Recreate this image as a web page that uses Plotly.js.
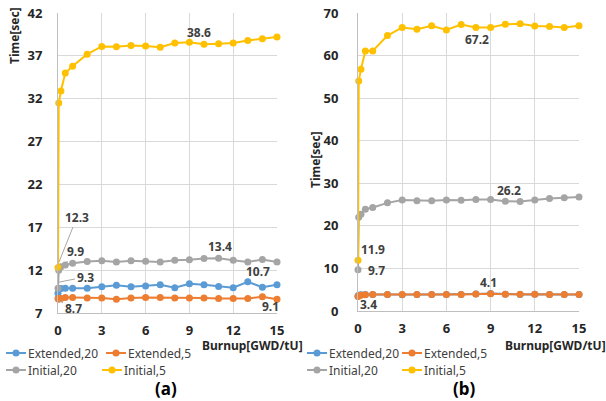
<!DOCTYPE html>
<html>
<head>
<meta charset="utf-8">
<script src="https://cdn.plot.ly/plotly-3.0.1.min.js"></script>
<style>html,body{margin:0;padding:0;background:#fff;}#chart{width:606px;height:401px;}</style>
</head>
<body>
<div id="chart"></div>
<script>
// Burnup steps [GWD/tU]
const burnup = [0, 0.05, 0.2, 0.5, 1, 2, 3, 4, 5, 6, 7, 8, 9, 10, 11, 12, 13, 14, 15];

// Panel (a)
const aExtended20 = [9.3, 9.8, 9.85, 9.9, 9.9, 9.9, 10.05, 10.25, 10.05, 10.15, 10.3, 9.95, 10.4, 10.3, 10.1, 9.95, 10.65, 10.0, 10.3];
const aExtended5  = [8.7, 8.6, 8.7, 8.8, 8.8, 8.75, 8.75, 8.6, 8.75, 8.8, 8.8, 8.75, 8.75, 8.75, 8.7, 8.7, 8.7, 8.9, 8.6];
const aInitial20  = [9.9, 12.0, 12.4, 12.6, 12.8, 13.0, 13.1, 12.95, 13.1, 13.05, 12.95, 13.15, 13.2, 13.35, 13.4, 13.15, 12.95, 13.25, 12.95];
const aInitial5   = [12.3, 31.5, 32.9, 35.0, 35.8, 37.2, 38.1, 38.05, 38.2, 38.15, 38.0, 38.5, 38.6, 38.35, 38.4, 38.5, 38.8, 39.0, 39.2];

// Panel (b)
const bExtended20 = [3.5, 3.7, 3.8, 3.85, 3.9, 3.85, 3.8, 3.9, 3.9, 3.9, 3.9, 4.0, 4.1, 3.95, 3.9, 3.95, 3.85, 3.85, 3.9];
const bExtended5  = [3.4, 3.6, 3.7, 3.8, 3.85, 3.85, 3.9, 3.9, 3.9, 3.9, 3.9, 4.0, 4.05, 3.95, 3.95, 3.95, 3.85, 3.85, 3.9];
const bInitial20  = [9.7, 22.0, 22.7, 23.9, 24.3, 25.4, 26.05, 25.9, 25.9, 26.05, 26.0, 26.2, 26.2, 25.8, 25.7, 26.05, 26.45, 26.6, 26.8];
const bInitial5   = [11.9, 54.0, 56.8, 61.1, 61.1, 64.7, 66.6, 66.2, 67.0, 66.0, 67.3, 66.6, 66.6, 67.35, 67.5, 66.95, 66.8, 66.6, 67.0];

const seriesNames = ["Extended,20", "Extended,5", "Initial,20", "Initial,5"];
const seriesColors = ["#5B9BD5", "#ED7D31", "#A5A5A5", "#FFC000"];

const xTicks = [0, 3, 6, 9, 12, 15];
const aYTicks = [7, 12, 17, 22, 27, 32, 37, 42];
const bYTicks = [0, 10, 20, 30, 40, 50, 60, 70];

const FONT = "Noto Sans, Open Sans, sans-serif";
const TXT = "#262626";
const W = 606, H = 401;

function tr(x, y, i, xa, ya) {
  return {
    x: x, y: y, name: seriesNames[i], type: "scatter", mode: "lines+markers",
    xaxis: xa, yaxis: ya, cliponaxis: false, showlegend: false,
    line: {color: seriesColors[i], width: 2},
    marker: {color: seriesColors[i], size: 7}
  };
}

const data = [
  tr(burnup, aExtended20, 0, "x", "y"),
  tr(burnup, aExtended5, 1, "x", "y"),
  tr(burnup, aInitial20, 2, "x", "y"),
  tr(burnup, aInitial5, 3, "x", "y"),
  tr(burnup, bExtended20, 0, "x2", "y2"),
  tr(burnup, bExtended5, 1, "x2", "y2"),
  tr(burnup, bInitial20, 2, "x2", "y2"),
  tr(burnup, bInitial5, 3, "x2", "y2")
];

function xax(dom, anchor) {
  return {
    domain: dom, anchor: anchor, range: [0, 15], tickvals: xTicks,
    showgrid: true, gridcolor: "#D9D9D9", gridwidth: 1,
    showline: true, linecolor: "#BFBFBF", linewidth: 1, zeroline: false,
    ticks: "", ticklabelstandoff: 5,
    tickfont: {family: FONT, size: 13, color: TXT, weight: "bold"}
  };
}
function yax(dom, anchor, range, ticks, standoff) {
  return {
    domain: dom, anchor: anchor, range: range, tickvals: ticks,
    showgrid: true, gridcolor: "#D9D9D9", gridwidth: 1,
    showline: true, linecolor: "#BFBFBF", linewidth: 1, zeroline: false,
    ticks: "", ticklabelstandoff: standoff,
    tickfont: {family: FONT, size: 13, color: TXT, weight: "bold"}
  };
}

const lblFont = {family: FONT, size: 12, color: "#404040", weight: "bold"};
function lbl(xref, yref, x, y, text) {
  return {xref: xref, yref: yref, x: x, y: y, text: text, showarrow: false, font: lblFont,
    xanchor: "center", yanchor: "middle"};
}
function lead(xref, yref, hx, hy, tx, ty, text) {
  return {xref: xref, yref: yref, x: hx, y: hy, ax: tx, ay: ty, axref: xref, ayref: yref,
    text: text, showarrow: true, arrowhead: 0, arrowwidth: 1, arrowcolor: "#A6A6A6",
    standoff: 0, startstandoff: 0, font: lblFont};
}
function ptxt(px, py, text, font, extra) {
  return Object.assign({xref: "paper", yref: "paper", x: px / W, y: 1 - py / H, text: text,
    showarrow: false, font: font, xanchor: "center", yanchor: "middle"}, extra || {});
}
const titleFont = {family: FONT, size: 12, color: TXT, weight: "bold"};
const legFont = {family: FONT, size: 12, color: "#404040"};
const panelFont = {family: FONT, size: 17, color: "#000", weight: "bold"};

const annotations = [
  lbl("x", "y", 9.66, 39.67, "38.6"),
  lbl("x", "y", 11.1, 14.74, "13.4"),
  lbl("x", "y", 13.7, 11.82, "10.7"),
  lbl("x", "y", 14.57, 7.74, "9.1"),
  lead("x", "y", 0.07, 12.95, 1.3, 18.2, "12.3"),
  lead("x", "y", 0.07, 11.9, 1.23, 14.23, "9.9"),
  lead("x", "y", 0.07, 10.6, 1.85, 11.2, "9.3"),
  lead("x", "y", 0.07, 8.45, 1.03, 7.58, "8.7"),
  lbl("x2", "y2", 8.06, 63.66, "67.2"),
  lbl("x2", "y2", 10.25, 28.19, "26.2"),
  lbl("x2", "y2", 1.04, 14.5, "11.9"),
  lbl("x2", "y2", 1.27, 9.47, "9.7"),
  lbl("x2", "y2", 8.85, 6.65, "4.1"),
  lbl("x2", "y2", 0.7, 1.57, "3.4"),
  ptxt(15, 36, "Time[sec]", titleFont, {textangle: -90}),
  ptxt(315, 160, "Time[sec]", titleFont, {textangle: -90}),
  ptxt(252, 345, "Burnup[GWD/tU]", titleFont),
  ptxt(555, 345, "Burnup[GWD/tU]", titleFont),
  ptxt(166, 388, "(a)", panelFont, {borderpad: 0}),
  ptxt(464, 388, "(b)", panelFont, {borderpad: 0})
];

// Custom legend entries: [series index, symbol left px, row y px]
const legendEntries = [
  [0, 6, 353], [1, 106, 353], [2, 6, 370], [3, 102, 370],
  [0, 307, 353], [1, 402, 353], [2, 307, 370], [3, 402, 370]
];
const shapes = [];
legendEntries.forEach(function (e) {
  const i = e[0], x0 = e[1], y = e[2], c = seriesColors[i];
  shapes.push({type: "line", xref: "paper", yref: "paper",
    x0: x0 / W, x1: (x0 + 20) / W, y0: 1 - y / H, y1: 1 - y / H,
    line: {color: c, width: 2}});
  shapes.push({type: "circle", xref: "paper", yref: "paper",
    x0: (x0 + 10 - 3.5) / W, x1: (x0 + 10 + 3.5) / W, y0: 1 - (y + 3.5) / H, y1: 1 - (y - 3.5) / H,
    fillcolor: c, line: {color: c, width: 0}});
  annotations.push(ptxt(x0 + 21, y, seriesNames[i], legFont, {xanchor: "left", borderpad: 0}));
});

const layout = {
  width: W, height: H,
  margin: {l: 0, r: 0, t: 0, b: 0},
  paper_bgcolor: "#fff", plot_bgcolor: "#fff",
  showlegend: false,
  xaxis: xax([58 / W, 277 / W], "y"),
  yaxis: yax([1 - 313 / H, 1 - 13 / H], "x", [7, 42], aYTicks, 12),
  xaxis2: xax([358 / W, 579 / W], "y2"),
  yaxis2: yax([1 - 311 / H, 1 - 13 / H], "x2", [0, 70], bYTicks, 16),
  annotations: annotations,
  shapes: shapes
};

Plotly.newPlot("chart", data, layout, {displayModeBar: false, staticPlot: true});
</script>
</body>
</html>
